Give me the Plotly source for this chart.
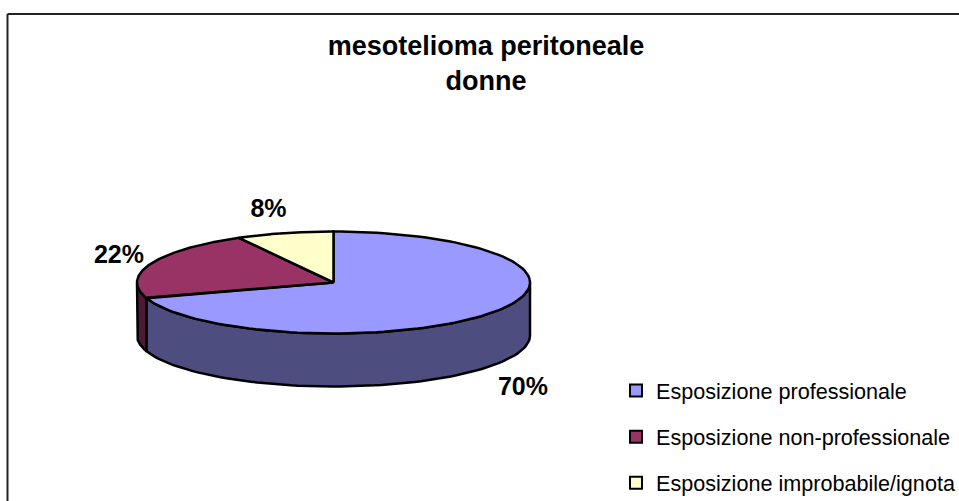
import numpy as np
import plotly.graph_objects as go

# --- data ---
categories = ["Esposizione professionale", "Esposizione non-professionale", "Esposizione improbabile/ignota"]
shares = [70, 22, 8]
title_lines = ["mesotelioma peritoneale", "donne"]

# --- style and geometry (pixel-scaled axes) ---
top_colors = ["#9999FF", "#993366", "#FFFFCC"]
side_colors = ["#4D4D80", "#4D1A33", "#808066"]
CX, CY, RX, RY, DEPTH = 333.5, 282.5, 196.5, 51, 53
label_pos = [(523, 389), (119, 257), (268.5, 211)]
W, H = 959, 501
FONT = "Liberation Sans, Arial, sans-serif"


def pt(theta_deg, dy=0.0):
    t = np.radians(theta_deg)
    return CX + RX * np.sin(t), CY - RY * np.cos(t) + dy


fracs = np.array(shares) / sum(shares)
edges = np.concatenate([[0], np.cumsum(fracs) * 360])

fig = go.Figure()

# side walls: only the part of the rim facing the viewer (90 to 270 deg)
for i in range(len(shares) - 1, -1, -1):
    a, b = max(edges[i], 90), min(edges[i + 1], 270)
    if a >= b:
        continue
    th = np.linspace(a, b, 80)
    x1, y1 = pt(th)
    x2, y2 = pt(th[::-1], DEPTH)
    fig.add_trace(go.Scatter(
        x=np.r_[x1, x2, x1[0]], y=np.r_[y1, y2, y1[0]], mode="lines", fill="toself",
        fillcolor=side_colors[i], line=dict(color="black", width=2.5),
        hoverinfo="skip", showlegend=False))

# top faces
for i in range(len(shares)):
    th = np.linspace(edges[i], edges[i + 1], 120)
    x, y = pt(th)
    fig.add_trace(go.Scatter(
        x=np.r_[CX, x, CX], y=np.r_[CY, y, CY], mode="lines", fill="toself",
        fillcolor=top_colors[i], line=dict(color="black", width=2.5),
        name=categories[i], hoverinfo="name", showlegend=False))

# percentage labels
fig.add_trace(go.Scatter(
    x=[p[0] for p in label_pos], y=[p[1] for p in label_pos],
    text=[f"{s}%" for s in shares], mode="text",
    textposition="middle center",
    textfont=dict(family=FONT, size=25, color="black", weight="bold"),
    hoverinfo="skip", showlegend=False))

# legend entries
for i, c in enumerate(categories):
    fig.add_trace(go.Scatter(
        x=[None], y=[None], mode="markers", name=c, legendgroup=c,
        marker=dict(symbol="square", size=12, color=top_colors[i],
                    line=dict(color="black", width=2))))

fig.update_layout(
    width=W, height=H, autosize=False,
    margin=dict(l=0, r=0, t=0, b=0, autoexpand=False),
    paper_bgcolor="white", plot_bgcolor="white",
    xaxis=dict(range=[0, W], visible=False, fixedrange=True),
    yaxis=dict(range=[H, 0], visible=False, fixedrange=True),
    title=dict(text="<br>".join(title_lines), x=486 / W, xanchor="center", y=1 - 55 / H, yanchor="middle",
               font=dict(family=FONT, size=27, color="black", weight="bold")),
    legend=dict(x=616 / W, xanchor="left", y=-0.006, yanchor="bottom",
                traceorder="grouped", tracegroupgap=15, itemsizing="constant",
                bgcolor="rgba(0,0,0,0)", itemwidth=30,
                font=dict(family=FONT, size=21.6, color="black")),
    shapes=[
        dict(type="line", xref="x", yref="y", x0=7.5, x1=W + 2, y0=14, y1=14, line=dict(color="#222222", width=2)),
        dict(type="line", xref="x", yref="y", x0=7.5, x1=7.5, y0=14, y1=H + 2, line=dict(color="#222222", width=2)),
    ],
)
fig.write_html("out.html", config={"displayModeBar": False},
               post_script="document.body.style.margin='0';document.body.style.overflow='hidden';")
